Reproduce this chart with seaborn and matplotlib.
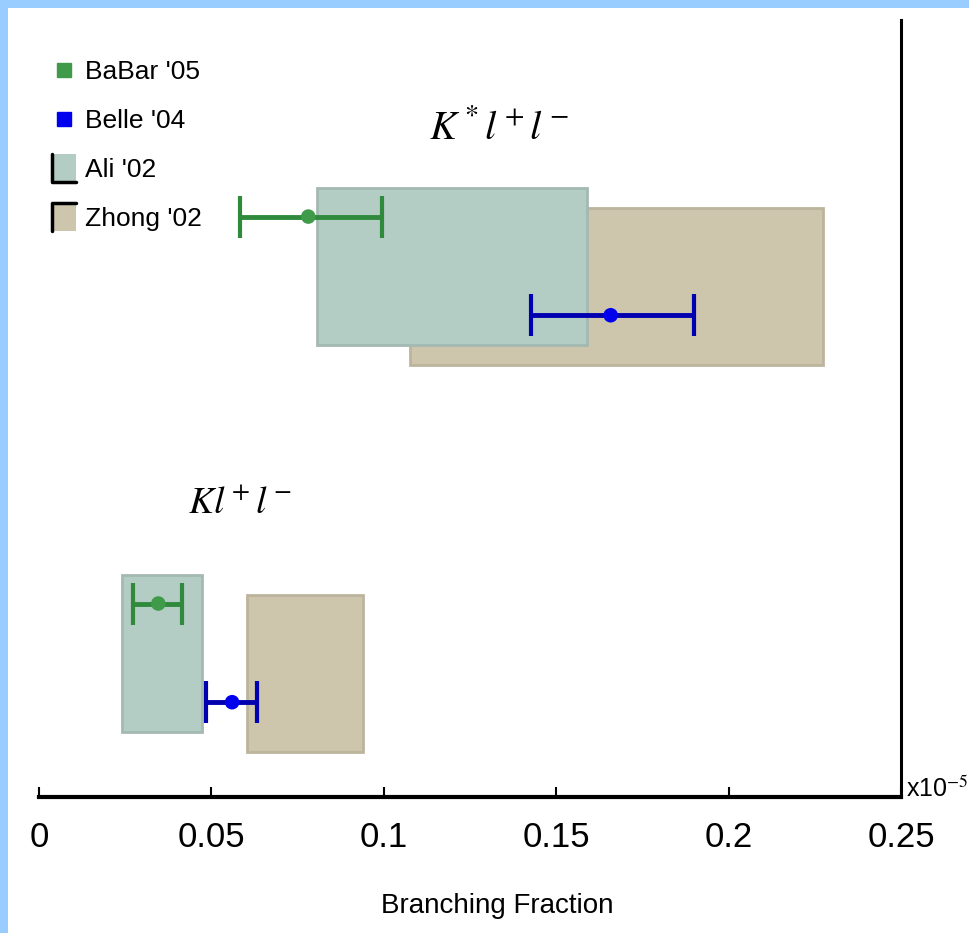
import numpy as np
import pandas as pd
import matplotlib
matplotlib.use("Agg")
import matplotlib.pyplot as plt
import seaborn as sns
from matplotlib.patches import Rectangle, Patch
from matplotlib.lines import Line2D
from matplotlib.legend_handler import HandlerBase

# ---------------- data (units of 1e-5) ----------------
channels = ["Kll", "K*ll"]
channel_titles = ["$Kl^+l^-$", "$K^*l^+l^-$"]

babar_central = [0.0346, 0.0781]
babar_low = [0.0273, 0.0584]
babar_high = [0.0415, 0.0996]

belle_central = [0.0560, 0.1658]
belle_low = [0.0485, 0.1426]
belle_high = [0.0633, 0.1899]

ali_low = [0.0241, 0.0807]
ali_high = [0.0473, 0.1588]

zhong_low = [0.0604, 0.1077]
zhong_high = [0.0940, 0.2274]

legend_labels = ["BaBar '05", "Belle '04", "Ali '02", "Zhong '02"]
tick_values = [0, 0.05, 0.1, 0.15, 0.2, 0.25]
tick_labels = ["0", "0.05", "0.1", "0.15", "0.2", "0.25"]
xlabel = "Branching Fraction"
scale_label = "x10$^{-5}$"

# ---------------- layout / style ----------------
sns.set_style("white")
plt.rcParams["font.family"] = ["Liberation Sans Narrow", "Liberation Sans", "DejaVu Sans"]
plt.rcParams["mathtext.fontset"] = "stix"
plt.rcParams["text.color"] = "black"
plt.rcParams["axes.labelcolor"] = "black"

W, H = 970, 933
fig = plt.figure(figsize=(W / 100, H / 100), dpi=100)
fig.patch.set_facecolor("#99ccff")
fig.patches.append(Rectangle((8 / W, 0), 1, 1 - 8 / H, transform=fig.transFigure,
                             facecolor="white", edgecolor="none", zorder=-10))

ax_left, ax_right, ax_bottom, ax_top = 39, 901, 797, 20
ax = fig.add_axes([ax_left / W, 1 - ax_bottom / H, (ax_right - ax_left) / W,
                   (ax_bottom - ax_top) / H])
ax.set_facecolor("none")

group_y = np.arange(len(channels))  # Kll at 0, K*ll at 1
off_ali, off_zhong = 0.025, -0.025
off_babar, off_belle = 0.155, -0.10
band_h = 0.406

ali_color, ali_edge = "#b3cdc4", "#a3b9b1"
zhong_color, zhong_edge = "#cdc5ac", "#bcb49c"
babar_line, babar_marker = "#2f8a3c", "#3f9a4a"
belle_line, belle_marker = "#0000b0", "#0000ee"

# theory bands
ali_low_a, ali_high_a = np.array(ali_low), np.array(ali_high)
zh_low_a, zh_high_a = np.array(zhong_low), np.array(zhong_high)
ax.barh(group_y + off_zhong, zh_high_a - zh_low_a, left=zh_low_a, height=band_h,
        color=zhong_color, edgecolor=zhong_edge, linewidth=2, zorder=1)
ax.barh(group_y + off_ali, ali_high_a - ali_low_a, left=ali_low_a, height=band_h,
        color=ali_color, edgecolor=ali_edge, linewidth=2, zorder=2)

# measurements
meas = pd.DataFrame({
    "channel": channels * 2,
    "source": [legend_labels[0]] * 2 + [legend_labels[1]] * 2,
    "central": babar_central + belle_central,
    "low": babar_low + belle_low,
    "high": babar_high + belle_high,
})
meas["y"] = np.concatenate([group_y + off_babar, group_y + off_belle])

for src, lc in [(legend_labels[0], babar_line), (legend_labels[1], belle_line)]:
    d = meas[meas["source"] == src]
    ax.errorbar(d["central"], d["y"],
                xerr=[d["central"] - d["low"], d["high"] - d["central"]],
                fmt="none", ecolor=lc, elinewidth=3.5, capsize=15, capthick=3,
                zorder=4)

sns.scatterplot(data=meas, x="central", y="y", hue="source",
                palette={legend_labels[0]: babar_marker, legend_labels[1]: belle_marker},
                s=110, edgecolor="none", legend=False, ax=ax, zorder=5)

# channel titles
title_x = [0.0584, 0.1333]
title_y = [0.415, 1.384]
title_sizes = [27, 29]
for tx, ty, t, fs in zip(title_x, title_y, channel_titles, title_sizes):
    ax.text(tx, ty, t, fontsize=fs, ha="center", va="center", color="black")

# axes styling
ax.set_xlim(0, 0.25)
ax.set_ylim(-0.345, 1.663)
ax.set_yticks([])
ax.set_ylabel("")
ax.set_xticks(tick_values)
ax.set_xticklabels(tick_labels)
ax.tick_params(axis="x", direction="in", length=7, width=1.5, pad=17,
               labelsize=25, colors="black", top=False, bottom=True)
for s in ["top", "left"]:
    ax.spines[s].set_visible(False)
ax.spines["bottom"].set_linewidth(3)
ax.spines["bottom"].set_color("black")
ax.spines["right"].set_linewidth(2.2)
ax.spines["right"].set_color("black")
ax.set_xlabel(xlabel, fontsize=20, color="black")
ax.xaxis.set_label_coords((497 - ax_left) / (ax_right - ax_left),
                          (ax_bottom - 893) / (ax_bottom - ax_top))

fig.text(906 / W, 1 - 802 / H, scale_label, fontsize=18, ha="left", va="bottom")


# legend
class BandHandler(HandlerBase):
    def __init__(self, corner):
        super().__init__()
        self.corner = corner

    def create_artists(self, legend, orig_handle, xdescent, ydescent, width,
                       height, fontsize, trans):
        x0, y0 = -xdescent, -ydescent - 0.25 * height
        h = height * 1.5
        rect = Rectangle((x0, y0), width, h, facecolor=orig_handle.get_facecolor(),
                         edgecolor="none", transform=trans)
        if self.corner == "bl":
            xs, ys = [x0, x0, x0 + width], [y0 + h, y0, y0]
        else:
            xs, ys = [x0, x0, x0 + width], [y0, y0 + h, y0 + h]
        ln = Line2D(xs, ys, color="black", lw=2.5, transform=trans)
        return [rect, ln]


h_babar = Line2D([], [], marker="s", ls="none", color=babar_marker, markersize=10)
h_belle = Line2D([], [], marker="s", ls="none", color=belle_marker, markersize=10)
h_ali = Patch(facecolor=ali_color)
h_zhong = Patch(facecolor=zhong_color)
fig.legend([h_babar, h_belle, h_ali, h_zhong], legend_labels,
           handler_map={h_ali: BandHandler("bl"), h_zhong: BandHandler("tl")},
           loc="upper left", bbox_to_anchor=(52 / W, 1 - 60 / H),
           frameon=False, fontsize=19, handlelength=0.9, handletextpad=0.35,
           labelspacing=0.95, borderpad=0, borderaxespad=0)

fig.savefig("out.png", dpi=100, facecolor=fig.get_facecolor())
